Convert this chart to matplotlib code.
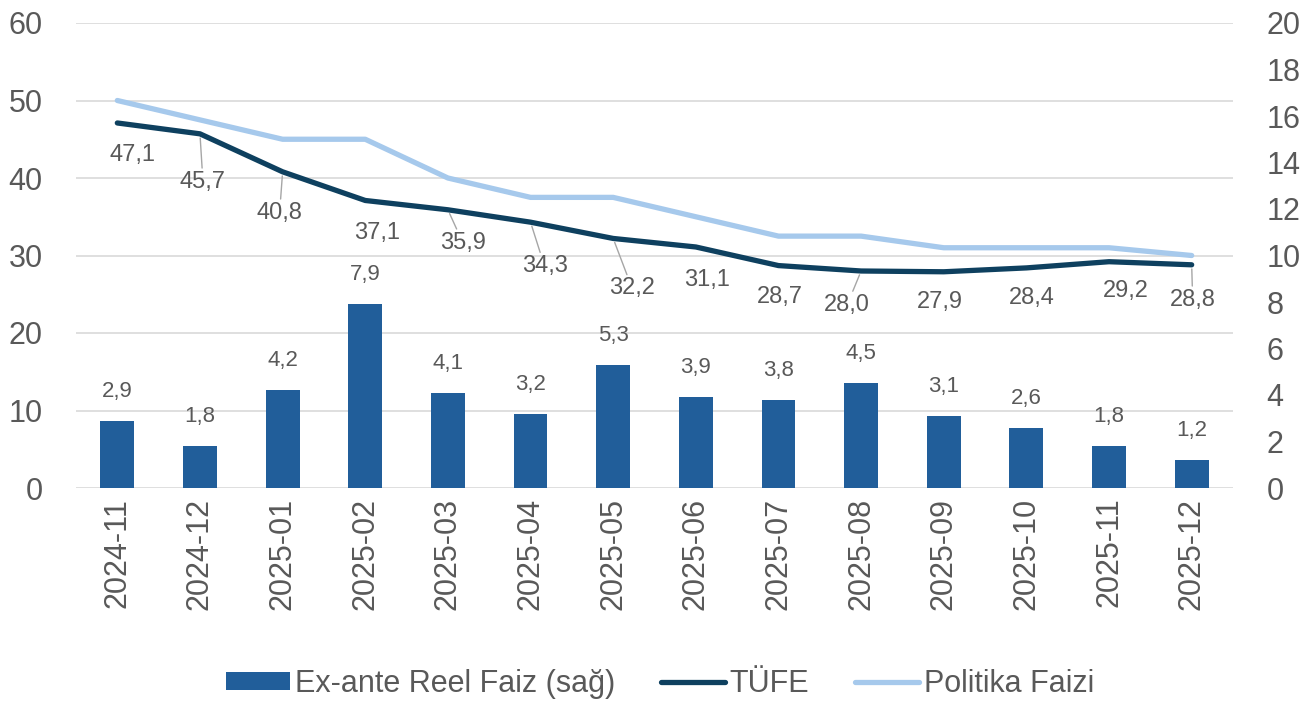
import matplotlib
matplotlib.use("Agg")
import matplotlib.pyplot as plt
import numpy as np

# data
MONTHS = ["2024-11", "2024-12", "2025-01", "2025-02", "2025-03", "2025-04", "2025-05",
          "2025-06", "2025-07", "2025-08", "2025-09", "2025-10", "2025-11", "2025-12"]
REEL_FAIZ = [2.9, 1.8, 4.2, 7.9, 4.1, 3.2, 5.3, 3.9, 3.8, 4.5, 3.1, 2.6, 1.8, 1.2]
TUFE = [47.1, 45.7, 40.8, 37.1, 35.9, 34.3, 32.2, 31.1, 28.7, 28.0, 27.9, 28.4, 29.2, 28.8]
POLITIKA = [50.0, 47.5, 45.0, 45.0, 40.0, 37.5, 37.5, 35.0, 32.5, 32.5, 31.0, 31.0, 31.0, 30.0]

# label offsets for TÜFE values (pixels), and which ones get a leader line
TUFE_OFFSETS = [(15, -32), (3, -48), (-3, -41), (12, -33), (15, -33), (14, -44), (19, -50),
                (11, -33), (1, -31), (-14, -34), (-4, -30), (5, -30), (17, -29), (1, -35)]
LEADER = [False, True, True, False, True, True, True,
          False, False, True, False, False, False, True]

BAR_COLOR = "#215E9A"
TUFE_COLOR = "#0E405F"
POL_COLOR = "#A6C9EC"
TEXT_COLOR = "#595959"
GRID_COLOR = "#D9D9D9"

plt.rcParams["font.family"] = ["Liberation Sans", "DejaVu Sans"]


def main():
    fig = plt.figure(figsize=(13.12, 7.02), dpi=100)
    ax = fig.add_axes([76 / 1312, 1 - 488 / 702, (1233 - 76) / 1312, (488 - 23) / 702])
    ax2 = ax.twinx()

    x = np.arange(len(MONTHS))

    # left axis: lines + grid
    ax.set_ylim(0, 60)
    ax.set_yticks(range(0, 61, 10))
    ax.set_xlim(-0.5, len(MONTHS) - 0.5)
    ax.grid(axis="y", color=GRID_COLOR, lw=1.2)
    ax.set_axisbelow(True)
    pol_line, = ax.plot(x, POLITIKA, color=POL_COLOR, lw=3.8, solid_joinstyle="round",
                        solid_capstyle="round", label="Politika Faizi", zorder=3)
    tufe_line, = ax.plot(x, TUFE, color=TUFE_COLOR, lw=3.8, solid_joinstyle="round",
                         solid_capstyle="round", label="TÜFE", zorder=4)

    for i, v in enumerate(TUFE):
        dx, dy = TUFE_OFFSETS[i]
        arrow = None
        if LEADER[i]:
            arrow = dict(arrowstyle="-", color="#A6A6A6", lw=1.0, shrinkA=0, shrinkB=3)
        ax.annotate(f"{v:.1f}".replace(".", ","), xy=(x[i], v), xytext=(dx, dy),
                    textcoords="offset pixels", ha="center", va="center",
                    fontsize=17, color=TEXT_COLOR, arrowprops=arrow, zorder=5)

    # right axis: bars
    ax2.set_ylim(0, 20)
    ax2.set_yticks(range(0, 21, 2))
    bars = ax2.bar(x, REEL_FAIZ, width=0.41, color=BAR_COLOR, label="Ex-ante Reel Faiz (sağ)",
                   zorder=2)
    for i, v in enumerate(REEL_FAIZ):
        ax2.annotate(f"{v:.1f}".replace(".", ","), xy=(x[i], v), xytext=(0, 19),
                     textcoords="offset pixels", ha="center", va="bottom",
                     fontsize=16, color=TEXT_COLOR)

    ax.set_xticks(x)
    ax.set_xticklabels(MONTHS, rotation=90)
    for a in (ax, ax2):
        for s in a.spines.values():
            s.set_visible(False)
        a.tick_params(length=0, labelsize=22, colors=TEXT_COLOR)
    ax.tick_params(axis="y", pad=24)
    ax2.tick_params(axis="y", pad=24)
    ax.tick_params(axis="x", pad=7)

    fig.legend([bars, tufe_line, pol_line],
               ["Ex-ante Reel Faiz (sağ)", "TÜFE", "Politika Faizi"],
               loc="center", bbox_to_anchor=(0.503, 0.026), ncol=3, frameon=False,
               fontsize=22, labelcolor=TEXT_COLOR, handlelength=2.1, handleheight=0.55,
               handletextpad=0.15, columnspacing=1.5)

    fig.savefig("out.png", dpi=100)
    plt.close(fig)


if __name__ == "__main__":
    main()
